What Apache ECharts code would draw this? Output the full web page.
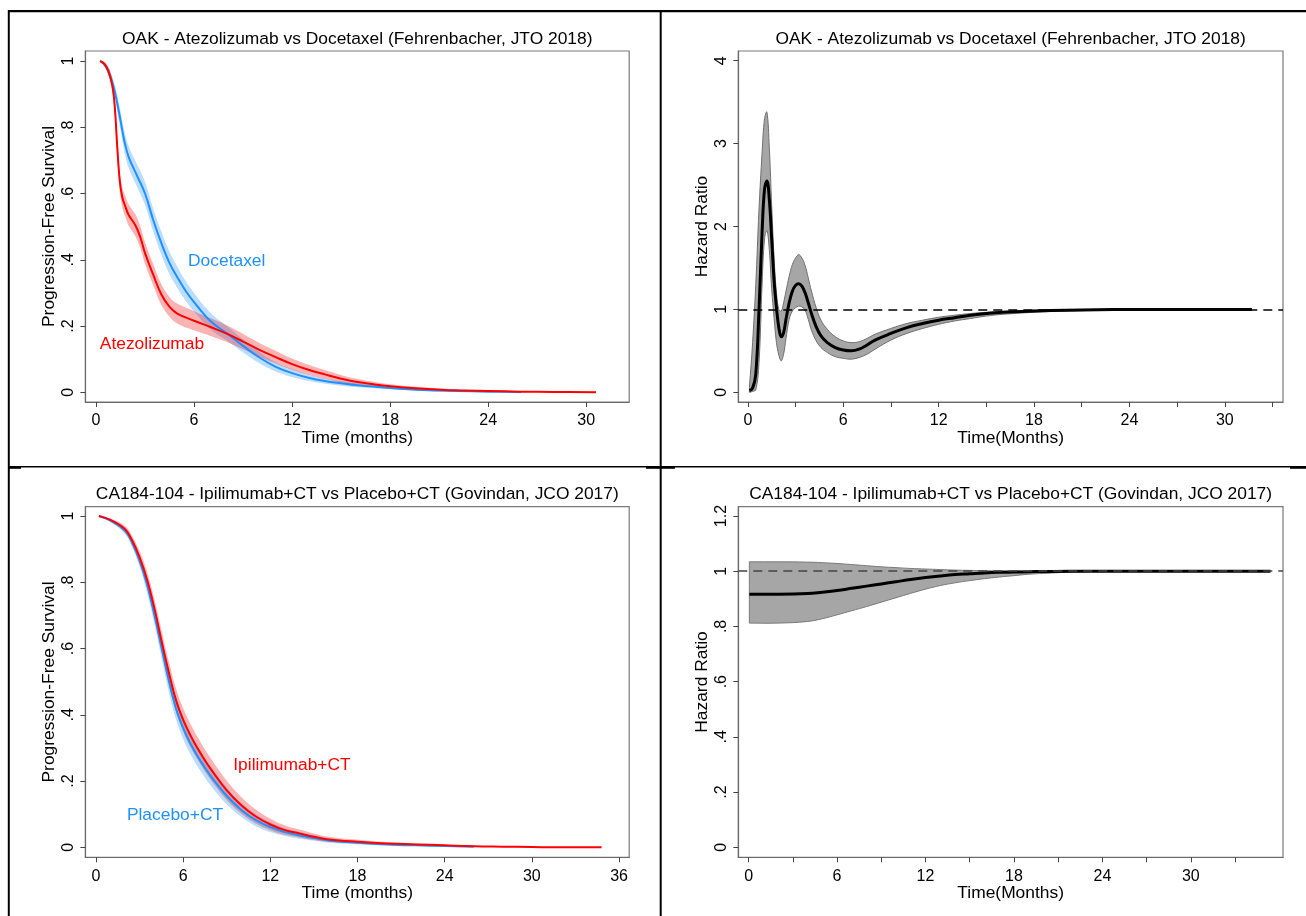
<!DOCTYPE html>
<html><head><meta charset="utf-8">
<script src="https://cdn.jsdelivr.net/npm/echarts@6.0.0/dist/echarts.min.js"></script>
<style>html,body{margin:0;padding:0;background:#fff}#chart{width:1306px;height:916px}</style>
</head><body><div id="chart"></div>
<script>
// ---------------- DATA ----------------
// Panel A: OAK PFS (Docetaxel)
const oakDocT  = [0.25,0.5,0.75,1,1.25,1.5,1.75,2,2.5,3,3.5,4,4.5,5,5.5,6,7,8,9,10,11,12,13,14,15,16,18,20,22,24,26];
const oakDoc   = [1.0,0.99,0.97,0.935,0.885,0.82,0.755,0.71,0.655,0.60,0.52,0.45,0.39,0.345,0.305,0.272,0.215,0.178,0.14,0.105,0.077,0.058,0.044,0.034,0.027,0.021,0.013,0.007,0.004,0.002,0.001];
const oakDocLo = [0.998,0.984,0.958,0.917,0.861,0.792,0.724,0.677,0.621,0.565,0.485,0.415,0.356,0.313,0.275,0.244,0.19,0.156,0.12,0.088,0.063,0.046,0.034,0.026,0.02,0.015,0.009,0.004,0.002,0.001,0.0];
const oakDocHi = [1.0,0.996,0.982,0.953,0.909,0.848,0.786,0.743,0.689,0.635,0.555,0.485,0.424,0.377,0.335,0.30,0.24,0.20,0.16,0.122,0.091,0.07,0.054,0.042,0.034,0.027,0.017,0.010,0.006,0.003,0.002];
// Panel A: OAK PFS (Atezolizumab)
const oakAteT  = [0.25,0.5,0.75,1,1.15,1.3,1.45,1.6,1.8,2,2.4,2.7,3,3.5,4,4.5,5,6,7,8,9,10,11,12,13,14,15,16,18,20,22,24,26,28,30.6];
const oakAte   = [1.0,0.992,0.97,0.925,0.86,0.74,0.64,0.59,0.56,0.535,0.505,0.47,0.42,0.355,0.295,0.258,0.237,0.216,0.197,0.177,0.153,0.128,0.106,0.085,0.068,0.054,0.041,0.031,0.018,0.011,0.006,0.004,0.002,0.001,0.0];
const oakAteLo = [0.998,0.986,0.958,0.907,0.838,0.714,0.612,0.56,0.529,0.503,0.472,0.437,0.387,0.323,0.264,0.228,0.207,0.187,0.17,0.152,0.13,0.107,0.087,0.068,0.053,0.041,0.03,0.022,0.012,0.007,0.003,0.002,0.001,0.0,0.0];
const oakAteHi = [1.0,0.998,0.982,0.943,0.882,0.766,0.668,0.62,0.591,0.567,0.538,0.503,0.453,0.387,0.326,0.288,0.267,0.245,0.224,0.202,0.176,0.149,0.125,0.102,0.083,0.067,0.052,0.04,0.024,0.015,0.009,0.006,0.003,0.002,0.0];
// Panel B: OAK hazard ratio
const oakHrT  = [0.1,0.3,0.5,0.7,0.9,1.05,1.2,1.35,1.5,1.65,1.8,1.95,2.1,2.25,2.4,2.6,2.8,3.0,3.2,3.4,3.6,3.8,4.0,4.3,4.6,5.0,5.5,6.0,6.5,7.0,7.5,8.0,9,10,11,12,13,14,15,16,18,20,22,24,26,28,30,31.7];
const oakHr   = [0.02,0.05,0.22,0.98,1.95,2.45,2.55,2.33,1.85,1.35,1.02,0.78,0.67,0.72,0.88,1.08,1.22,1.29,1.31,1.28,1.20,1.08,0.95,0.79,0.68,0.60,0.54,0.51,0.50,0.52,0.57,0.63,0.71,0.78,0.83,0.87,0.90,0.93,0.95,0.965,0.98,0.99,0.997,1.0,1.0,1.0,1.0,1.0];
const oakHrLo = [0.0,0.01,0.03,0.35,1.32,1.85,1.95,1.72,1.25,0.9,0.6,0.45,0.38,0.46,0.65,0.88,0.98,1.02,1.04,1.03,0.99,0.88,0.75,0.62,0.54,0.48,0.43,0.41,0.40,0.42,0.46,0.52,0.63,0.71,0.77,0.82,0.86,0.89,0.92,0.94,0.965,0.98,0.99,0.997,1.0,1.0,1.0,1.0];
const oakHrHi = [0.06,0.6,1.3,2.2,2.9,3.3,3.38,2.95,2.25,1.62,1.2,1.0,0.98,1.08,1.22,1.40,1.54,1.62,1.66,1.62,1.53,1.38,1.22,1.02,0.87,0.76,0.67,0.62,0.60,0.61,0.65,0.70,0.77,0.83,0.87,0.905,0.93,0.95,0.965,0.975,0.988,0.996,1.0,1.0,1.0,1.0,1.0,1.0];
// Panel C: CA184-104 PFS (Ipilimumab+CT)
const caIpiT  = [0.2,1,2,2.5,3,3.5,4,4.5,5,5.5,6,6.5,7,7.5,8,9,10,11,12,13,14,15,16,18,20,22,24,26,28,30,32,34.8];
const caIpi   = [1.0,0.988,0.96,0.925,0.875,0.81,0.725,0.625,0.53,0.445,0.385,0.338,0.298,0.262,0.23,0.172,0.127,0.093,0.069,0.052,0.042,0.032,0.024,0.017,0.012,0.009,0.006,0.003,0.002,0.001,0.0,0.0];
const caIpiLo = [0.999,0.984,0.95,0.911,0.856,0.786,0.697,0.593,0.496,0.41,0.35,0.303,0.264,0.229,0.198,0.143,0.102,0.072,0.052,0.038,0.03,0.022,0.016,0.011,0.008,0.006,0.004,0.001,0.001,0.0,0.0,0.0];
const caIpiHi = [1.0,0.992,0.97,0.939,0.894,0.834,0.753,0.657,0.564,0.48,0.42,0.373,0.332,0.295,0.262,0.201,0.152,0.114,0.086,0.066,0.054,0.042,0.032,0.023,0.016,0.012,0.008,0.005,0.003,0.002,0.0,0.0];
// Panel C: CA184-104 PFS (Placebo+CT)
const caPlaT  = [0.2,1,2,2.5,3,3.5,4,4.5,5,5.5,6,6.5,7,7.5,8,9,10,11,12,13,14,15,16,18,20,22,24,26];
const caPla   = [1.0,0.986,0.955,0.918,0.865,0.795,0.705,0.605,0.505,0.42,0.36,0.313,0.274,0.24,0.209,0.155,0.113,0.082,0.061,0.046,0.036,0.028,0.021,0.014,0.009,0.006,0.004,0.002];
const caPlaLo = [0.999,0.982,0.945,0.904,0.846,0.771,0.677,0.574,0.472,0.387,0.327,0.281,0.243,0.21,0.181,0.13,0.092,0.064,0.046,0.034,0.026,0.02,0.014,0.009,0.006,0.004,0.002,0.001];
const caPlaHi = [1.0,0.99,0.965,0.932,0.884,0.819,0.733,0.636,0.538,0.453,0.393,0.345,0.305,0.27,0.237,0.18,0.134,0.1,0.076,0.058,0.046,0.036,0.028,0.019,0.012,0.008,0.006,0.003];
// Panel D: CA184-104 hazard ratio
const caHrT  = [0.05,2,4,5,6,7,8,9,10,11,12,13,14,15,16,17,18,19,20,22,24,26,28,30,32,34,35.4];
const caHr   = [0.917,0.917,0.919,0.924,0.930,0.938,0.946,0.954,0.962,0.970,0.977,0.983,0.988,0.991,0.994,0.996,0.997,0.998,0.999,1.0,1.0,1.0,1.0,1.0,1.0,1.0,1.0];
const caHrLo = [0.812,0.812,0.818,0.828,0.842,0.857,0.872,0.888,0.904,0.920,0.935,0.948,0.958,0.966,0.973,0.979,0.984,0.989,0.992,0.997,0.999,1.0,1.0,1.0,1.0,1.0,1.0];
const caHrHi = [1.034,1.034,1.033,1.031,1.028,1.024,1.020,1.016,1.013,1.010,1.008,1.006,1.004,1.003,1.002,1.001,1.001,1.0,1.0,1.0,1.0,1.0,1.0,1.0,1.0,1.0,1.0];

// Tick values and labels
const pfsYTicks = [0,0.2,0.4,0.6,0.8,1];
const pfsYLabels = ['0','.2','.4','.6','.8','1'];
const oakHrYTicks = [0,1,2,3,4];
const oakHrYLabels = ['0','1','2','3','4'];
const caHrYTicks = [0,0.2,0.4,0.6,0.8,1,1.2];
const caHrYLabels = ['0','.2','.4','.6','.8','1','1.2'];
const oakPfsXTicks = [0,6,12,18,24,30];
const caPfsXTicks = [0,6,12,18,24,30,36];
const hrXTicks = [0,3,6,9,12,15,18,21,24,27,30,33];
const hrXLabels = [0,6,12,18,24,30];

const titles = ['OAK - Atezolizumab vs Docetaxel (Fehrenbacher, JTO 2018)',
                'OAK - Atezolizumab vs Docetaxel (Fehrenbacher, JTO 2018)',
                'CA184-104 - Ipilimumab+CT vs Placebo+CT (Govindan, JCO 2017)',
                'CA184-104 - Ipilimumab+CT vs Placebo+CT (Govindan, JCO 2017)'];

// ---------------- RENDER ----------------
const FONT = '"Liberation Sans", Arial, Helvetica, sans-serif';
const FS = 17.4;   // titles / axis titles
const TFS = 16;    // tick labels
const SM = 0.4;
const RED = '#ff0000', BLUE = '#1e90ff';
const RED_BAND = 'rgba(240,20,20,0.32)', BLUE_BAND = 'rgba(30,144,255,0.30)';

const chart = echarts.init(document.getElementById('chart'), null, {renderer: 'canvas'});

const grids = [
  {left: 85.4, top: 51, width: 543.8, height: 351},
  {left: 738.3, top: 51, width: 544.7, height: 351},
  {left: 85.4, top: 506.7, width: 543.8, height: 350.6},
  {left: 738.3, top: 506.7, width: 544.7, height: 350.6}
].map(g => Object.assign({show: true, borderColor: '#7a7a7a', borderWidth: 1.2, backgroundColor: '#fff'}, g));

function lookup(ticks, labels) {
  return v => { const i = ticks.findIndex(x => Math.abs(x - v) < 1e-6); return i < 0 ? '' : String(labels[i]); };
}
function xAxis(gi, min, max, tickVals, labelVals, name) {
  return {type: 'value', gridIndex: gi, min, max, name, nameLocation: 'middle', nameGap: 27,
    nameTextStyle: {fontFamily: FONT, fontSize: FS, color: '#000'},
    axisLine: {show: true, onZero: false, lineStyle: {color: '#6a6a6a', width: 1.2}},
    splitLine: {show: false},
    axisTick: {show: true, length: 5, customValues: tickVals, lineStyle: {color: '#444', width: 1}},
    axisLabel: {show: true, customValues: labelVals, margin: 11, color: '#000', fontFamily: FONT, fontSize: TFS,
      formatter: lookup(labelVals, labelVals)}};
}
function yAxis(gi, min, max, tickVals, labels, name) {
  return {type: 'value', gridIndex: gi, min, max, name, nameLocation: 'middle', nameGap: 28,
    nameTextStyle: {fontFamily: FONT, fontSize: FS, color: '#000'},
    axisLine: {show: true, onZero: false, lineStyle: {color: '#6a6a6a', width: 1.2}},
    splitLine: {show: false},
    axisTick: {show: true, length: 5, customValues: tickVals, lineStyle: {color: '#444', width: 1}},
    axisLabel: {show: true, customValues: tickVals, rotate: 90, margin: 9, color: '#000', fontFamily: FONT, fontSize: TFS,
      formatter: lookup(tickVals, labels)}};
}

function band(gi, ts, lo, hi, fill, stroke, lw, z) {
  return {type: 'custom', xAxisIndex: gi, yAxisIndex: gi, z: z || 2, silent: true,
    dimensions: ['t', 'lo', 'hi'], encode: {x: 0, y: [1, 2]},
    data: ts.map((t, i) => [t, lo[i], hi[i]]),
    renderItem: function (params, api) {
      if (params.dataIndexInside !== 0) return null;
      const n = params.dataInsideLength;
      const up = [], dn = [];
      for (let i = 0; i < n; i++) {
        const t = api.value(0, i);
        up.push(api.coord([t, api.value(2, i)]));
        dn.push(api.coord([t, api.value(1, i)]));
      }
      const pts = [up[0]].concat(up, [up[n - 1], dn[n - 1]], dn.slice().reverse(), [dn[0]]);
      return {type: 'polygon', shape: {points: pts, smooth: SM},
        style: {fill: fill, stroke: stroke || null, lineWidth: lw || 0}};
    }};
}
function line(gi, ts, vs, color, width, extra) {
  return Object.assign({type: 'line', xAxisIndex: gi, yAxisIndex: gi, data: ts.map((t, i) => [t, vs[i]]),
    showSymbol: false, symbol: 'none', smooth: SM, silent: true, z: 3,
    lineStyle: {color: color, width: width}}, extra || {});
}
function refLine(color) {
  return {markLine: {silent: true, symbol: 'none', label: {show: false},
    lineStyle: {color: color, width: 1.5, type: [9, 6]}, data: [{yAxis: 1}]}};
}

const option = {
  animation: false,
  backgroundColor: '#fff',
  grid: grids,
  xAxis: [
    xAxis(0, -0.65, 32.63, oakPfsXTicks, oakPfsXTicks, 'Time (months)'),
    xAxis(1, -0.6, 33.66, hrXTicks, hrXLabels, 'Time(Months)'),
    xAxis(2, -0.73, 36.7, caPfsXTicks, caPfsXTicks, 'Time (months)'),
    xAxis(3, -0.7, 36.25, hrXTicks, hrXLabels, 'Time(Months)')
  ],
  yAxis: [
    yAxis(0, -0.0293, 1.0302, pfsYTicks, pfsYLabels, 'Progression-Free Survival'),
    yAxis(1, -0.117, 4.117, oakHrYTicks, oakHrYLabels, 'Hazard Ratio'),
    yAxis(2, -0.030, 1.028, pfsYTicks, pfsYLabels, 'Progression-Free Survival'),
    yAxis(3, -0.0362, 1.2337, caHrYTicks, caHrYLabels, 'Hazard Ratio')
  ],
  series: [
    band(0, oakDocT, oakDocLo, oakDocHi, BLUE_BAND),
    line(0, oakDocT, oakDoc, BLUE, 2, {name: 'Docetaxel'}),
    band(0, oakAteT, oakAteLo, oakAteHi, RED_BAND, null, 0, 3),
    line(0, oakAteT, oakAte, RED, 2, {name: 'Atezolizumab', z: 4}),

    band(1, oakHrT, oakHrLo, oakHrHi, '#a6a6a6', '#707070', 1),
    line(1, oakHrT, oakHr, '#000', 3, Object.assign({name: 'HR OAK'}, refLine('#000'))),

    band(2, caPlaT, caPlaLo, caPlaHi, BLUE_BAND),
    line(2, caPlaT, caPla, BLUE, 2, {name: 'Placebo+CT'}),
    band(2, caIpiT, caIpiLo, caIpiHi, RED_BAND, null, 0, 3),
    line(2, caIpiT, caIpi, RED, 2, {name: 'Ipilimumab+CT', z: 4}),

    band(3, caHrT, caHrLo, caHrHi, '#a6a6a6', '#7a7a7a', 1),
    line(3, caHrT, caHr, '#000', 3, Object.assign({name: 'HR CA184'}, refLine('#444')))
  ],
  graphic: [
    // panel frame
    {type: 'line', shape: {x1: 8, y1: 11.2, x2: 1306, y2: 11.2}, style: {stroke: '#000', lineWidth: 2.3}},
    {type: 'line', shape: {x1: 8.8, y1: 10, x2: 8.8, y2: 916}, style: {stroke: '#000', lineWidth: 2}},
    {type: 'line', shape: {x1: 660.7, y1: 10, x2: 660.7, y2: 916}, style: {stroke: '#000', lineWidth: 2}},
    {type: 'line', shape: {x1: 8, y1: 466.7, x2: 1306, y2: 466.7}, style: {stroke: '#000', lineWidth: 1.4}},
    {type: 'line', shape: {x1: 8, y1: 467.5, x2: 21, y2: 467.5}, style: {stroke: '#000', lineWidth: 2.6}},
    {type: 'line', shape: {x1: 646, y1: 467.5, x2: 675, y2: 467.5}, style: {stroke: '#000', lineWidth: 2.6}},
    {type: 'line', shape: {x1: 1290, y1: 467.5, x2: 1306, y2: 467.5}, style: {stroke: '#000', lineWidth: 2.6}},
    // titles
    {type: 'text', x: 357.3, y: 39.3, style: {text: titles[0], fill: '#000', font: FS + 'px ' + FONT, align: 'center', verticalAlign: 'middle'}},
    {type: 'text', x: 1010.6, y: 39.3, style: {text: titles[1], fill: '#000', font: FS + 'px ' + FONT, align: 'center', verticalAlign: 'middle'}},
    {type: 'text', x: 357.3, y: 494.3, style: {text: titles[2], fill: '#000', font: FS + 'px ' + FONT, align: 'center', verticalAlign: 'middle'}},
    {type: 'text', x: 1010.6, y: 494.3, style: {text: titles[3], fill: '#000', font: FS + 'px ' + FONT, align: 'center', verticalAlign: 'middle'}},
    // curve labels
    {type: 'text', x: 226.7, y: 261, z: 10, style: {text: 'Docetaxel', fill: BLUE, font: FS + 'px ' + FONT, align: 'center', verticalAlign: 'middle'}},
    {type: 'text', x: 152, y: 344.3, z: 10, style: {text: 'Atezolizumab', fill: RED, font: FS + 'px ' + FONT, align: 'center', verticalAlign: 'middle'}},
    {type: 'text', x: 292, y: 765.3, z: 10, style: {text: 'Ipilimumab+CT', fill: RED, font: FS + 'px ' + FONT, align: 'center', verticalAlign: 'middle'}},
    {type: 'text', x: 175, y: 815.3, z: 10, style: {text: 'Placebo+CT', fill: BLUE, font: FS + 'px ' + FONT, align: 'center', verticalAlign: 'middle'}}
  ]
};
chart.setOption(option);
</script></body></html>
